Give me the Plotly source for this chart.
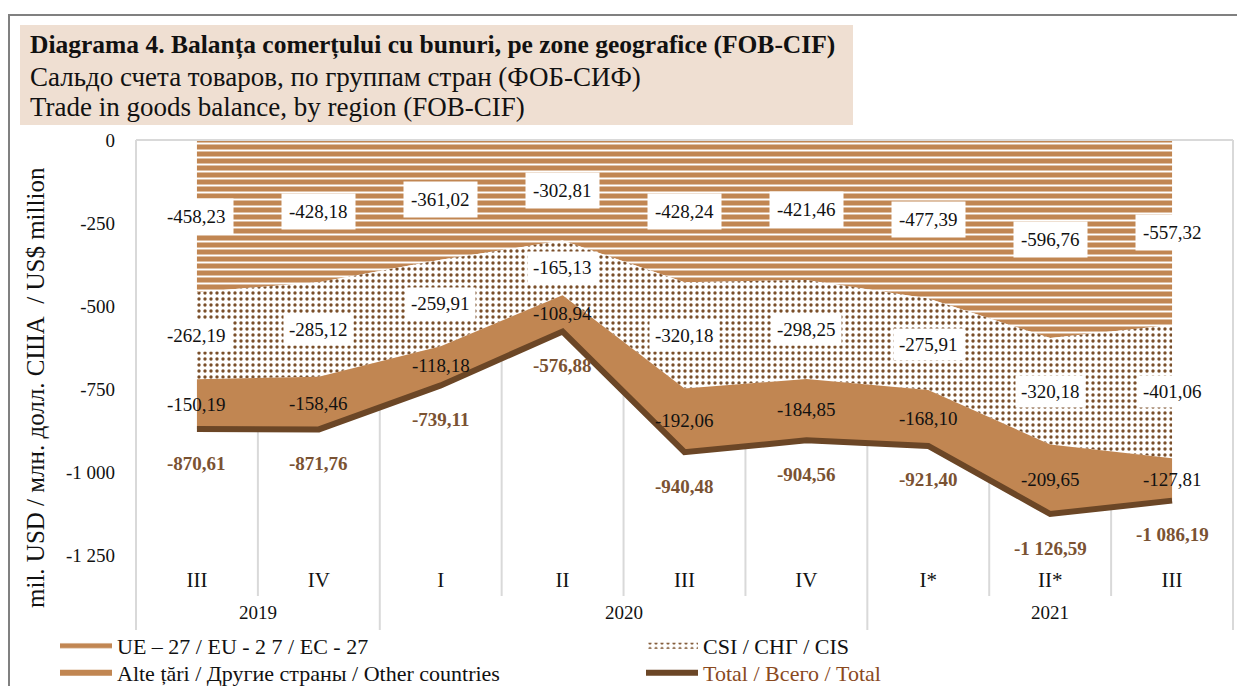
import plotly.graph_objects as go

# ---------------- data ----------------
years = ["2019", "2019", "2020", "2020", "2020", "2020", "2021", "2021", "2021"]
quarters = ["III", "IV", "I", "II", "III", "IV", "I*", "II*", "III"]
eu = [-458.23, -428.18, -361.02, -302.81, -428.24, -421.46, -477.39, -596.76, -557.32]
cis = [-262.19, -285.12, -259.91, -165.13, -320.18, -298.25, -275.91, -320.18, -401.06]
other = [-150.19, -158.46, -118.18, -108.94, -192.06, -184.85, -168.10, -209.65, -127.81]
total = [-870.61, -871.76, -739.11, -576.88, -940.48, -904.56, -921.40, -1126.59, -1086.19]
y_ticks = [0, -250, -500, -750, -1000, -1250]

series_names = ["UE – 27 / EU - 2 7 / EC - 27", "CSI / СНГ / CIS",
                "Alte țări / Другие страны / Other countries", "Total / Всего / Total"]
title_lines = ["<b>Diagrama 4. Balanța comerțului cu bunuri, pe zone geografice (FOB-CIF)</b>",
               "Сальдо счета товаров, по группам стран (ФОБ-СИФ)",
               "Trade in goods balance, by region (FOB-CIF)"]
y_title = "mil. USD / млн. долл. США &nbsp;/ US$ million"

# ---------------- layout geometry ----------------
W, H = 1245, 686
OFF = 8  # page body margin offset
ML, MR, MT, MB = 128, 20, 132, 139
PW, PH = W - ML - MR, H - MT - MB
XMIN, XMAX = -0.5, len(quarters) - 0.5


def px(x):  # screen pixel -> paper
    return (x - OFF - ML) / PW


def py(y):
    return (H - MB - (y - OFF)) / PH


def xp(i):  # category index -> paper
    return (i - XMIN) / (XMAX - XMIN)


FONT = "Liberation Serif"
BROWN = "#c18652"
DARK = "#6b4626"
LABEL_BROWN = "#7a5232"
GRID = "#d9d9d9"

idx = list(range(len(quarters)))


def fmt(v):
    return f"{v:,.2f}".replace(",", " ").replace(".", ",")


def fmt_int(v):
    return f"{v:,}".replace(",", " ")


fig = go.Figure()
fig.add_trace(go.Scatter(
    x=idx, y=eu, stackgroup="s", mode="none", name=series_names[0], legend="legend",
    fillcolor=BROWN,
    fillpattern=dict(shape="-", fgcolor="white", bgcolor=BROWN, size=7, solidity=0.28, fgopacity=1),
))
fig.add_trace(go.Scatter(
    x=idx, y=cis, stackgroup="s", mode="none", name=series_names[1], legend="legend2",
    fillcolor="white",
    fillpattern=dict(shape=".", fgcolor="#7a4f2a", bgcolor="white", size=6, solidity=0.25, fgopacity=1),
))
fig.add_trace(go.Scatter(
    x=idx, y=other, stackgroup="s", mode="none", name=series_names[2], legend="legend3",
    fillcolor=BROWN,
))
fig.add_trace(go.Scatter(
    x=idx, y=total, mode="lines", name=f"<span style='color:#8a4a1e'>{series_names[3]}</span>",
    legend="legend4", line=dict(color=DARK, width=6),
))

annotations = []
# data labels
for i in idx:
    y_eu = eu[i] / 2
    y_cis = eu[i] + cis[i] / 2
    y_oth = eu[i] + cis[i] + other[i] / 2
    annotations.append(dict(x=i, y=y_eu, xref="x", yref="y", text=fmt(eu[i]), showarrow=False,
                            bgcolor="white", borderpad=7, font=dict(family=FONT, size=19, color="#111")))
    annotations.append(dict(x=i, y=y_cis, xref="x", yref="y", text=fmt(cis[i]), showarrow=False,
                            bgcolor="white", borderpad=5, font=dict(family=FONT, size=19, color="#111")))
    annotations.append(dict(x=i, y=y_oth, xref="x", yref="y", text=fmt(other[i]), showarrow=False,
                            font=dict(family=FONT, size=19, color="#111")))
    annotations.append(dict(x=i, y=total[i], xref="x", yref="y", text=f"<b>{fmt(total[i])}</b>",
                            showarrow=False, yshift=-34,
                            font=dict(family=FONT, size=19, color=LABEL_BROWN)))

# year labels (centre of each group)
groups = []
for i, yr in enumerate(years):
    if not groups or groups[-1][0] != yr:
        groups.append([yr, i, i])
    else:
        groups[-1][2] = i
for yr, a, b in groups:
    annotations.append(dict(x=(a + b) / 2, y=py(612), xref="x", yref="paper", text=yr, showarrow=False,
                            yanchor="middle", font=dict(family=FONT, size=19, color="#111")))

# title lines
for t, yy, fs in zip(title_lines, [45, 77, 107], [25.5, 27, 27]):
    annotations.append(dict(x=px(28), y=py(yy), xref="paper", yref="paper", text=t, showarrow=False,
                            xanchor="left", yanchor="middle", font=dict(family=FONT, size=fs, color="#111")))

# y axis title
annotations.append(dict(x=px(35), y=py(388), xref="paper", yref="paper", text=y_title, showarrow=False,
                        textangle=-90, xanchor="center", yanchor="middle",
                        font=dict(family=FONT, size=25, color="#111")))

shapes = []
# outer frame
shapes.append(dict(type="line", xref="paper", yref="paper", x0=px(8), x1=px(W + 20), y0=py(15), y1=py(15),
                   line=dict(color="#808080", width=2)))
shapes.append(dict(type="line", xref="paper", yref="paper", x0=px(9), x1=px(9), y0=py(15), y1=py(H + 20),
                   line=dict(color="#808080", width=2)))
# title box
shapes.append(dict(type="rect", xref="paper", yref="paper", x0=px(20), x1=px(853), y0=py(125), y1=py(25),
                   fillcolor="#efdfd2", line=dict(width=0), layer="below"))
# top border of plot area
shapes.append(dict(type="line", xref="paper", yref="paper", x0=0, x1=1, y0=1, y1=1,
                   line=dict(color=GRID, width=2)))
# category separators
year_bounds = {g[1] - 0.5 for g in groups} | {groups[-1][2] + 0.5}
for k in range(len(quarters) + 1):
    b = k - 0.5
    bottom = 630 if b in year_bounds else 596
    shapes.append(dict(type="line", xref="paper", yref="paper", x0=xp(b), x1=xp(b), y0=1, y1=py(bottom),
                       line=dict(color=GRID, width=2), layer="below"))

legend_common = dict(orientation="v", xanchor="left", yanchor="top", itemwidth=52, traceorder="normal",
                     font=dict(family=FONT, size=22, color="#111"), bgcolor="rgba(0,0,0,0)",
                     tracegroupgap=0, itemclick=False, itemdoubleclick=False)

fig.update_layout(
    width=W, height=H,
    margin=dict(l=ML, r=MR, t=MT, b=MB, autoexpand=False),
    paper_bgcolor="white", plot_bgcolor="white",
    separators=", ",
    font=dict(family=FONT, size=19, color="#111"),
    showlegend=True,
    legend=dict(x=px(55), y=py(625), **legend_common),
    legend2=dict(x=px(641), y=py(625), **legend_common),
    legend3=dict(x=px(55), y=py(652), **legend_common),
    legend4=dict(x=px(641), y=py(652), **legend_common),
    xaxis=dict(range=[XMIN, XMAX], tickvals=idx, ticktext=quarters, showgrid=False, zeroline=False,
               showline=False, ticks="", ticklabelstandoff=10,
               tickfont=dict(family=FONT, size=21, color="#111")),
    yaxis=dict(range=[y_ticks[-1], y_ticks[0]], tickvals=y_ticks, ticktext=[fmt_int(v) for v in y_ticks],
               showgrid=False, zeroline=False, showline=False, ticks="", ticklabelstandoff=20,
               tickfont=dict(family=FONT, size=19, color="#111")),
    annotations=annotations,
    shapes=shapes,
)

fig.write_html("out.html")
